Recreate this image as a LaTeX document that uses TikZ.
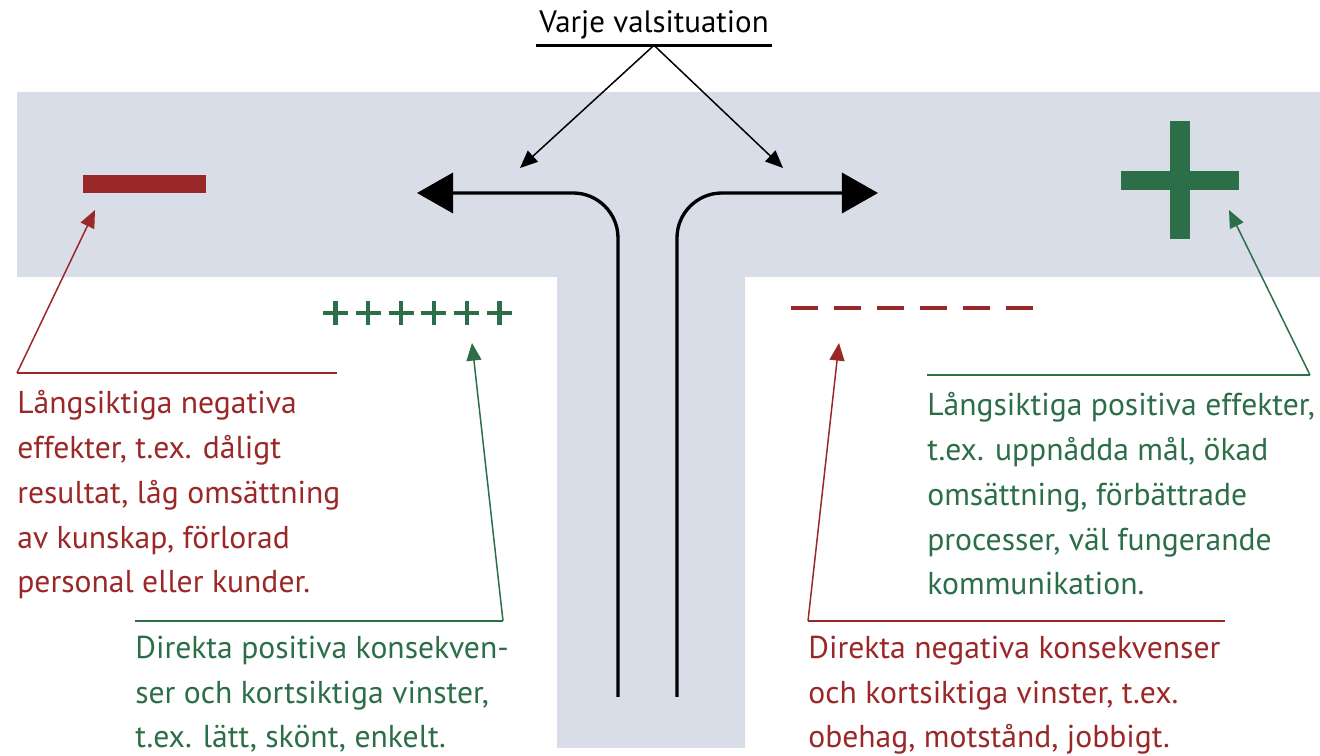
\documentclass[tikz,border=0pt]{standalone}
\usepackage{fontspec}
\setmainfont{PT Sans}
\usetikzlibrary{arrows.meta}
\definecolor{negred}{RGB}{155,40,40}
\definecolor{posgreen}{RGB}{44,110,72}
\definecolor{roadgray}{RGB}{216,221,232}

\begin{document}
\begin{tikzpicture}[x=0.02cm,y=-0.02cm,
        txt/.style={anchor=base west,inner sep=0pt,align=left,font=\fontsize{18}{25.6}\selectfont},
        rule/.style={line width=1.6pt},
        pointer/.style={line width=0.85pt,-{Triangle[length=10pt,width=8.5pt]}},
        road/.style={line width=1.9pt,rounded corners=25.6pt,-{Triangle[length=20.5pt,width=22.8pt]}}]
        \useasboundingbox (0,0) rectangle (1320,756);
        % the T-shaped road
        \fill[roadgray] (17,92) -- (1320,92) -- (1320,277) -- (745,277)
            -- (745,748) -- (557,748) -- (557,277) -- (17,277) -- cycle;
        \coordinate (lstem) at (618,697);
        \coordinate (rstem) at (677,697);
        \coordinate (lend) at (417,193);
        \coordinate (rend) at (878,193);
        \draw[road] (lstem) |- (lend);
        \draw[road] (rstem) |- (rend);

        % title with the two choices
        \node[anchor=base,inner xsep=1.5pt,font=\fontsize{17.6}{20}\selectfont] (title) at (654,33) {Varje valsituation};
        \coordinate (tbar) at ([yshift=-7pt]title.base);
        \draw[rule] ([yshift=-7pt]title.base west) -- ([yshift=-7pt]title.base east);
        \coordinate (lpick) at (520,168);
        \coordinate (rpick) at (783,168);
        \draw[pointer] (tbar) -- (lpick);
        \draw[pointer] (tbar) -- (rpick);

        % big signs
        \fill[negred] (83,175) rectangle (206,193);
        \fill[posgreen] (1170,121) rectangle (1190,239);
        \fill[posgreen] (1121,171) rectangle (1239,190);

        % small signs
        \foreach \i in {0,...,5}
            \draw[posgreen,line width=2.3pt] ({335.5+32.8*\i-12.5},313) -- ++(25,0)
                ({335.5+32.8*\i},301) -- ++(0,24);
        \draw[negred,line width=2.8pt,dash pattern=on 15.4pt off 9.1pt] (791,308) -- (1033,308);

        % long term, negative
        \coordinate (negL) at (17,373);
        \coordinate (negR) at (337,373);
        \coordinate (minustip) at (95,210);
        \draw[rule,negred] (negR) -- (negL);
        \draw[pointer,negred] (negL) -- (minustip);
        \node[txt,text=negred] (longneg) at (17,593) {Långsiktiga negativa\\effekter, t.ex. dåligt\\resultat, låg omsättning\\av kunskap, förlorad\\personal eller kunder.};

        % short term, positive
        \coordinate (posL) at (135,621);
        \coordinate (posR) at (503,621);
        \coordinate (plustip) at (472,343);
        \draw[rule,posgreen] (posL) -- (posR);
        \draw[pointer,posgreen] (posR) -- (plustip);
        \node[txt,text=posgreen] (shortpos) at (135,748) {Direkta positiva konsekven-\\ser och kortsiktiga vinster,\\t.ex. lätt, skönt, enkelt.};

        % short term, negative
        \coordinate (snegL) at (808,621);
        \coordinate (snegR) at (1225,621);
        \coordinate (dashtip) at (839,343);
        \draw[rule,negred] (snegR) -- (snegL);
        \draw[pointer,negred] (snegL) -- (dashtip);
        \node[txt,text=negred] (shortneg) at (808,748) {Direkta negativa konsekvenser\\och kortsiktiga vinster, t.ex.\\obehag, motstånd, jobbigt.};

        % long term, positive
        \coordinate (lposL) at (927,375);
        \coordinate (lposR) at (1310,375);
        \coordinate (bigplustip) at (1229,210);
        \draw[rule,posgreen] (lposL) -- (lposR);
        \draw[pointer,posgreen] (lposR) -- (bigplustip);
        \node[txt,text=posgreen] (longpos) at (927,595) {Långsiktiga positiva effekter,\\t.ex. uppnådda mål, ökad\\omsättning, förbättrade\\processer, väl fungerande\\kommunikation.};
\end{tikzpicture}
\end{document}
